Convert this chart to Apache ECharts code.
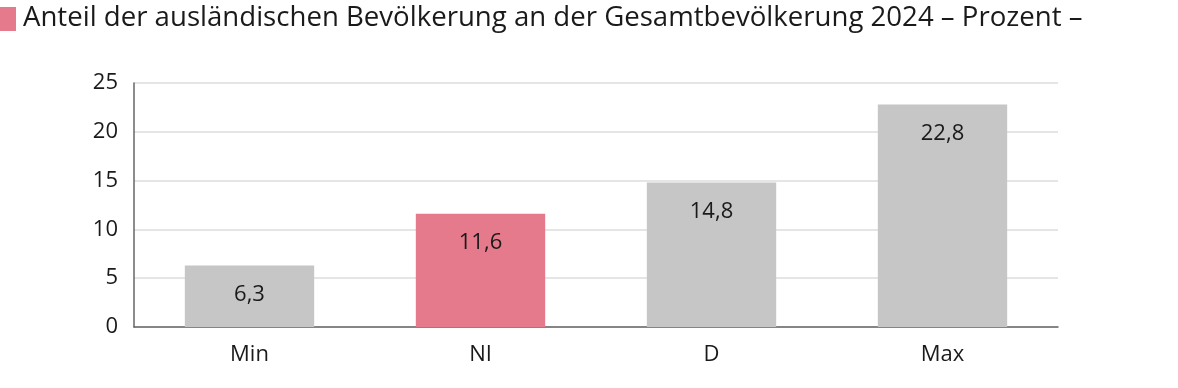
<!DOCTYPE html>
<html><head><meta charset="utf-8">
<script src="https://cdn.jsdelivr.net/npm/echarts@6/dist/echarts.min.js"></script>
<style>html,body{margin:0;padding:0;background:#fff}#c{width:1178px;height:388px}</style>
</head><body><div id="c"></div>
<script>
const titleText = 'Anteil der ausländischen Bevölkerung an der Gesamtbevölkerung 2024 – Prozent –';
const categories = ['Min', 'NI', 'D', 'Max'];
const values = [6.3, 11.6, 14.8, 22.8];
const barColors = ['#c6c6c6', '#e57a8c', '#c6c6c6', '#c6c6c6'];
const yTicks = [0, 5, 10, 15, 20, 25];

const FONT = '"Open Sans", sans-serif';
const chart = echarts.init(document.getElementById('c'));
chart.setOption({
  animation: false,
  graphic: [{type:'rect', left:0, top:7, shape:{width:16, height:24}, style:{fill:'#e57a8c'}}],
  title: {text: titleText, left: 18, top: -1, textStyle:{fontFamily: FONT, fontSize: 27.6, fontWeight: 'normal', color:'#1a1a1a'}},
  grid: {left:134, right:120, top:83, bottom:61},
  xAxis: {type:'category', data: categories,
    axisLine:{lineStyle:{color:'#666', width:1.5}}, axisTick:{show:false},
    axisLabel:{fontFamily: FONT, fontSize:22, color:'#1a1a1a', margin:17}},
  yAxis: {type:'value', min: yTicks[0], max: yTicks[yTicks.length-1], interval: 5,
    axisLine:{show:true, lineStyle:{color:'#666', width:1.5}}, axisTick:{show:false},
    splitLine:{lineStyle:{color:'#dcdcdc', width:1.5}},
    axisLabel:{fontFamily: FONT, fontSize:22, color:'#1a1a1a', margin:16}},
  series: [{type:'bar', barWidth:'56%',
    data: values.map((v,i)=>({value:v, itemStyle:{color:barColors[i]}})),
    label:{show:true, position:'insideTop', distance:18, fontFamily: FONT, fontSize:22, color:'#1a1a1a',
      formatter: p => String(p.value).replace('.', ',')}}]
});
</script></body></html>
